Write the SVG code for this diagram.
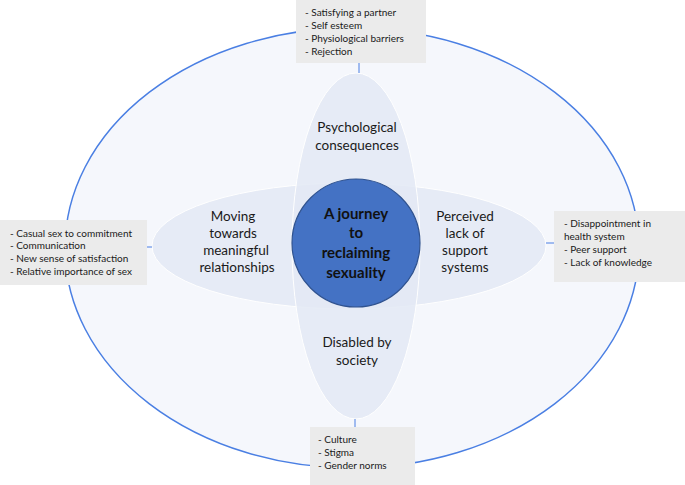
<svg xmlns="http://www.w3.org/2000/svg" width="685" height="485" viewBox="0 0 685 485">
<style>
.bg{fill:#ffffff}
.outer{fill:#f5f7fc;stroke:#4a7fe3;stroke-width:1.5}
.petal{fill:#e3e9f5;fill-opacity:0.85;stroke:#ffffff;stroke-width:1}
.core{fill:#4472c4;stroke:#2f528f;stroke-width:1.2}
.box{fill:#ebebeb}
.conn{stroke:#4a7fe3;stroke-width:1;fill:none}
.t{font-family:Lato,"Open Sans","Liberation Sans",sans-serif;fill:#1a1a1a}
.list{font-size:10px}
.lab{font-size:13.5px;text-anchor:middle}
.core-t{font-size:15px;font-weight:bold;text-anchor:middle;fill:#111}
</style>
<rect class="bg" x="0" y="0" width="685" height="485"/>
<g id="outer"><ellipse class="outer" cx="352" cy="248" rx="287" ry="220"/></g>
<g id="petals">
<ellipse class="petal" cx="349" cy="246" rx="197" ry="63"/>
<ellipse class="petal" cx="356" cy="246" rx="64" ry="173"/>
</g>
<g id="connectors">
<line class="conn" x1="359" y1="63" x2="359" y2="73"/>
<line class="conn" x1="147" y1="247" x2="152" y2="247"/>
<line class="conn" x1="546" y1="243" x2="554" y2="243"/>
<line class="conn" x1="355" y1="419" x2="355" y2="427"/>
</g>
<g id="label-top"><text class="t lab" x="357" y="132">Psychological</text><text class="t lab" x="357" y="150">consequences</text></g>
<g id="label-left"><text class="t lab" x="233" y="221">Moving</text><text class="t lab" x="233" y="238">towards</text><text class="t lab" x="236" y="255">meaningful</text><text class="t lab" x="237" y="272">relationships</text></g>
<g id="label-right"><text class="t lab" x="465" y="221">Perceived</text><text class="t lab" x="465" y="238">lack of</text><text class="t lab" x="465" y="255">support</text><text class="t lab" x="465" y="272">systems</text></g>
<g id="label-bottom"><text class="t lab" x="357" y="347">Disabled by</text><text class="t lab" x="357" y="365">society</text></g>
<g id="center">
<circle class="core" cx="356" cy="243" r="64"/>
<text class="t core-t" x="356" y="219">A journey</text>
<text class="t core-t" x="356" y="238">to</text>
<text class="t core-t" x="356" y="258">reclaiming</text>
<text class="t core-t" x="356" y="278">sexuality</text>
</g>
<g id="box-top"><rect class="box" x="296" y="0" width="130" height="63"/>
<text class="t list" x="305" y="16">- Satisfying a partner</text><text class="t list" x="305" y="29">- Self esteem</text><text class="t list" x="305" y="42">- Physiological barriers</text><text class="t list" x="305" y="55">- Rejection</text></g>
<g id="box-left"><rect class="box" x="0" y="220" width="147" height="65"/>
<text class="t list" x="10" y="237">- Casual sex to commitment</text><text class="t list" x="10" y="249">- Communication</text><text class="t list" x="10" y="262">- New sense of satisfaction</text><text class="t list" x="10" y="275">- Relative importance of sex</text></g>
<g id="box-right"><rect class="box" x="554" y="211" width="131" height="71"/>
<text class="t list" x="564" y="227">- Disappointment in</text><text class="t list" x="564" y="240">health system</text><text class="t list" x="564" y="253">- Peer support</text><text class="t list" x="564" y="266">- Lack of knowledge</text></g>
<g id="box-bottom"><rect class="box" x="310" y="427" width="105" height="58"/>
<text class="t list" x="318" y="443">- Culture</text><text class="t list" x="318" y="456">- Stigma</text><text class="t list" x="318" y="469">- Gender norms</text></g>
</svg>
